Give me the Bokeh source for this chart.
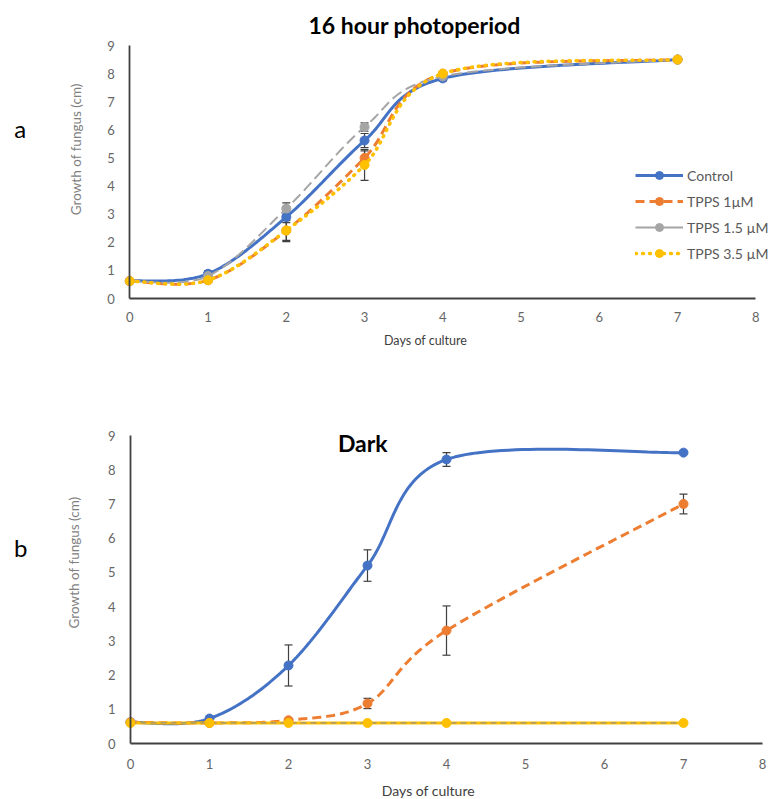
import numpy as np
from bokeh.plotting import figure
from bokeh.layouts import column
from bokeh.models import (Range1d, Label, Legend, LegendItem, Whisker, TeeHead,
                          ColumnDataSource, SingleIntervalTicker)
from bokeh.embed import file_html
from bokeh.resources import INLINE

# ---------------- data ----------------
days = [0, 1, 2, 3, 4, 7]
series_names = ["Control", "TPPS 1µM", "TPPS 1.5 µM", "TPPS 3.5 µM"]

# 16 hour photoperiod
light_control = [0.62, 0.88, 2.90, 5.62, 7.83, 8.50]
light_tpps1 = [0.62, 0.65, 2.42, 5.00, 8.00, 8.50]
light_tpps15 = [0.62, 0.80, 3.20, 6.10, 7.90, 8.50]
light_tpps35 = [0.62, 0.65, 2.42, 4.75, 8.00, 8.50]
light_control_err = [0, 0.10, 0.20, 0.25, 0.10, 0]
light_tpps1_err = [0, 0, 0.35, 0.25, 0, 0]
light_tpps15_err = [0, 0, 0.20, 0.15, 0, 0]
light_tpps35_err = [0, 0, 0.40, 0.55, 0, 0]

# Dark
dark_control = [0.62, 0.73, 2.28, 5.20, 8.30, 8.50]
dark_tpps1 = [0.62, 0.60, 0.68, 1.17, 3.30, 7.00]
dark_tpps15 = [0.60, 0.60, 0.60, 0.60, 0.60, 0.60]
dark_tpps35 = [0.60, 0.60, 0.60, 0.60, 0.60, 0.60]
dark_control_err = [0, 0, 0.60, 0.46, 0.20, 0]
dark_tpps1_err = [0, 0, 0, 0.15, 0.72, 0.29]
dark_tpps15_err = [0, 0, 0, 0, 0, 0]
dark_tpps35_err = [0, 0, 0, 0, 0, 0]

x_axis_max = 8
y_axis_max = 9

BLUE = "#4472C4"
ORANGE = "#ED7D31"
GRAY = "#A5A5A5"
YELLOW = "#FFC000"
TICK_TXT = "#666666"
YLAB_TXT = "#7F7F7F"
LEG_TXT = "#595959"
AX = "#404040"
FONT = "Lato"
W = 769


def excel_smooth(xs, ys, n=40):
    """Excel-style smoothed line (Catmull-Rom converted to cubic Bezier)."""
    pts = np.column_stack([xs, ys]).astype(float)
    m = len(pts)
    ox, oy = [], []
    t = np.linspace(0, 1, n)
    for i in range(m - 1):
        p0 = pts[max(i - 1, 0)]
        p1 = pts[i]
        p2 = pts[i + 1]
        p3 = pts[min(i + 2, m - 1)]
        c1 = p1 + (p2 - p0) / 6.0
        c2 = p2 - (p3 - p1) / 6.0
        b = ((1 - t) ** 3)[:, None] * p1 + (3 * (1 - t) ** 2 * t)[:, None] * c1 \
            + (3 * (1 - t) * t ** 2)[:, None] * c2 + (t ** 3)[:, None] * p2
        if i > 0:
            b = b[1:]
        ox.extend(b[:, 0])
        oy.extend(b[:, 1])
    return ox, oy


def make_fig(height, x0_px, xunit_px, y0_px, yunit_px):
    """Frame covers the whole canvas; axes are pinned at 0 with bounds."""
    xr = Range1d(-x0_px / xunit_px, (W - x0_px) / xunit_px)
    yr = Range1d((y0_px - height) / yunit_px, y0_px / yunit_px)
    p = figure(width=W, height=height, x_range=xr, y_range=yr,
               output_backend="svg", toolbar_location=None,
               min_border=0, min_border_left=0, min_border_right=0,
               min_border_top=0, min_border_bottom=0)
    p.grid.visible = False
    p.outline_line_color = None
    p.background_fill_color = "white"
    p.border_fill_color = "white"
    p.xaxis.fixed_location = 0
    p.yaxis.fixed_location = 0
    p.xaxis.bounds = (0, x_axis_max)
    p.yaxis.bounds = (0, y_axis_max)
    for ax in (p.xaxis, p.yaxis):
        ax.ticker = SingleIntervalTicker(interval=1)
        ax.major_tick_line_color = None
        ax.minor_tick_line_color = None
        ax.axis_line_color = AX
        ax.axis_line_width = 1.8
        ax.major_label_text_font = FONT
        ax.major_label_text_font_size = "13px"
        ax.major_label_text_color = TICK_TXT
    return p


def add_err(p, xs, ys, errs):
    bx = [x for x, e in zip(xs, errs) if e > 0]
    up = [y + e for y, e in zip(ys, errs) if e > 0]
    lo = [y - e for y, e in zip(ys, errs) if e > 0]
    if not bx:
        return
    src = ColumnDataSource(dict(x=bx, upper=up, lower=lo))
    w = Whisker(source=src, base="x", upper="upper", lower="lower",
                line_color=AX, line_width=1.2,
                upper_head=TeeHead(size=8, line_color=AX, line_width=1.2),
                lower_head=TeeHead(size=8, line_color=AX, line_width=1.2))
    p.add_layout(w)


def text_label(p, x, y, text, size, bold=False, color="black", angle=0.0):
    p.add_layout(Label(x=x, y=y, text=text, text_font=FONT, text_font_size=size,
                       text_font_style="bold" if bold else "normal",
                       text_color=color, text_align="center",
                       text_baseline="middle", angle=angle))


# ---------------- top panel ----------------
TOP_H = 388
top = make_fig(TOP_H, 129.3, 78.25, 298.0, 28.11)
top.xaxis.major_label_standoff = 7
top.yaxis.major_label_standoff = 9

styles_top = [
    dict(color=BLUE, width=3, dash="solid", cap="butt"),
    dict(color=ORANGE, width=3, dash="9 5", cap="butt"),
    dict(color=GRAY, width=2, dash="11 5", cap="butt"),
    dict(color=YELLOW, width=3.5, dash="1 6", cap="round"),
]
top_vals = [light_control, light_tpps1, light_tpps15, light_tpps35]
top_errs = [light_control_err, light_tpps1_err, light_tpps15_err, light_tpps35_err]

for vals, errs, st in zip(top_vals, top_errs, styles_top):
    sx, sy = excel_smooth(days, vals)
    top.line(sx, sy, line_color=st["color"], line_width=st["width"],
             line_dash=st["dash"], line_cap=st["cap"])
    add_err(top, days, vals, errs)
    top.scatter(days, vals, size=9, fill_color=st["color"], line_color=st["color"])

# legend proxies drawn outside the visible range (legend shows gray solid)
legend_styles = [
    dict(color=BLUE, width=3, dash="solid", cap="butt", ms=9),
    dict(color=ORANGE, width=3, dash="9 5", cap="butt", ms=10),
    dict(color=GRAY, width=2, dash="solid", cap="butt", ms=8),
    dict(color=YELLOW, width=3.5, dash="1 6", cap="round", ms=11),
]
items = []
for name, st in zip(series_names, legend_styles):
    lr = top.line([-6, -5], [0, 0], line_color=st["color"], line_width=st["width"],
                  line_dash=st["dash"], line_cap=st["cap"])
    sr = top.scatter([-6], [0], size=st["ms"], fill_color=st["color"], line_color=st["color"])
    items.append(LegendItem(label=name, renderers=[lr, sr]))
leg = Legend(items=items, location=(635, 125), orientation="vertical",
             glyph_width=48, glyph_height=20, label_height=20, spacing=6,
             padding=0, margin=0, label_standoff=4,
             label_text_font=FONT, label_text_font_size="14px",
             label_text_color=LEG_TXT, border_line_color=None,
             background_fill_alpha=0)
top.add_layout(leg)

text_label(top, 3.64, 9.72, "16 hour photoperiod", "23px", bold=True)
text_label(top, -1.40, 6.05, "a", "24px")
text_label(top, -0.69, 5.37, "Growth of  fungus (cm)", "13.5px", color=YLAB_TXT, angle=np.pi / 2)
text_label(top, 3.78, -1.49, "Days of culture", "12.5px", color=AX)

# ---------------- bottom panel ----------------
BOT_H = 411
bot = make_fig(BOT_H, 130.0, 79.0, 355.0, 34.22)
bot.xaxis.major_label_standoff = 9
bot.yaxis.major_label_standoff = 9

styles_bot = [
    dict(color=BLUE, width=3, dash="solid", cap="butt", alpha=1.0),
    dict(color=ORANGE, width=3, dash="9 5", cap="butt", alpha=1.0),
    dict(color="#8C8C8C", width=1.2, dash="6 4", cap="butt", alpha=0.9),
    dict(color=YELLOW, width=3, dash="solid", cap="butt", alpha=1.0),
]
bot_vals = [dark_control, dark_tpps1, dark_tpps15, dark_tpps35]
bot_errs = [dark_control_err, dark_tpps1_err, dark_tpps15_err, dark_tpps35_err]
draw_order = [0, 1, 3, 2]  # thin gray dashes show through the yellow band

for i in draw_order:
    vals, errs, st = bot_vals[i], bot_errs[i], styles_bot[i]
    sx, sy = excel_smooth(days, vals)
    bot.line(sx, sy, line_color=st["color"], line_width=st["width"],
             line_dash=st["dash"], line_cap=st["cap"], line_alpha=st["alpha"])
    add_err(bot, days, vals, errs)
for i in [0, 1, 3]:
    vals, st = bot_vals[i], styles_bot[i]
    bot.scatter(days, vals, size=9, fill_color=st["color"], line_color=st["color"])

text_label(bot, 2.94, 8.77, "Dark", "23px", bold=True)
text_label(bot, -1.39, 5.73, "b", "24px")
text_label(bot, -0.72, 5.29, "Growth of fungus (cm)", "13.5px", color=YLAB_TXT, angle=np.pi / 2)
text_label(bot, 3.77, -1.37, "Days of culture", "14px", color=AX)

layout = column(top, bot, spacing=0)
open("out.html", "w").write(file_html(layout, INLINE))
